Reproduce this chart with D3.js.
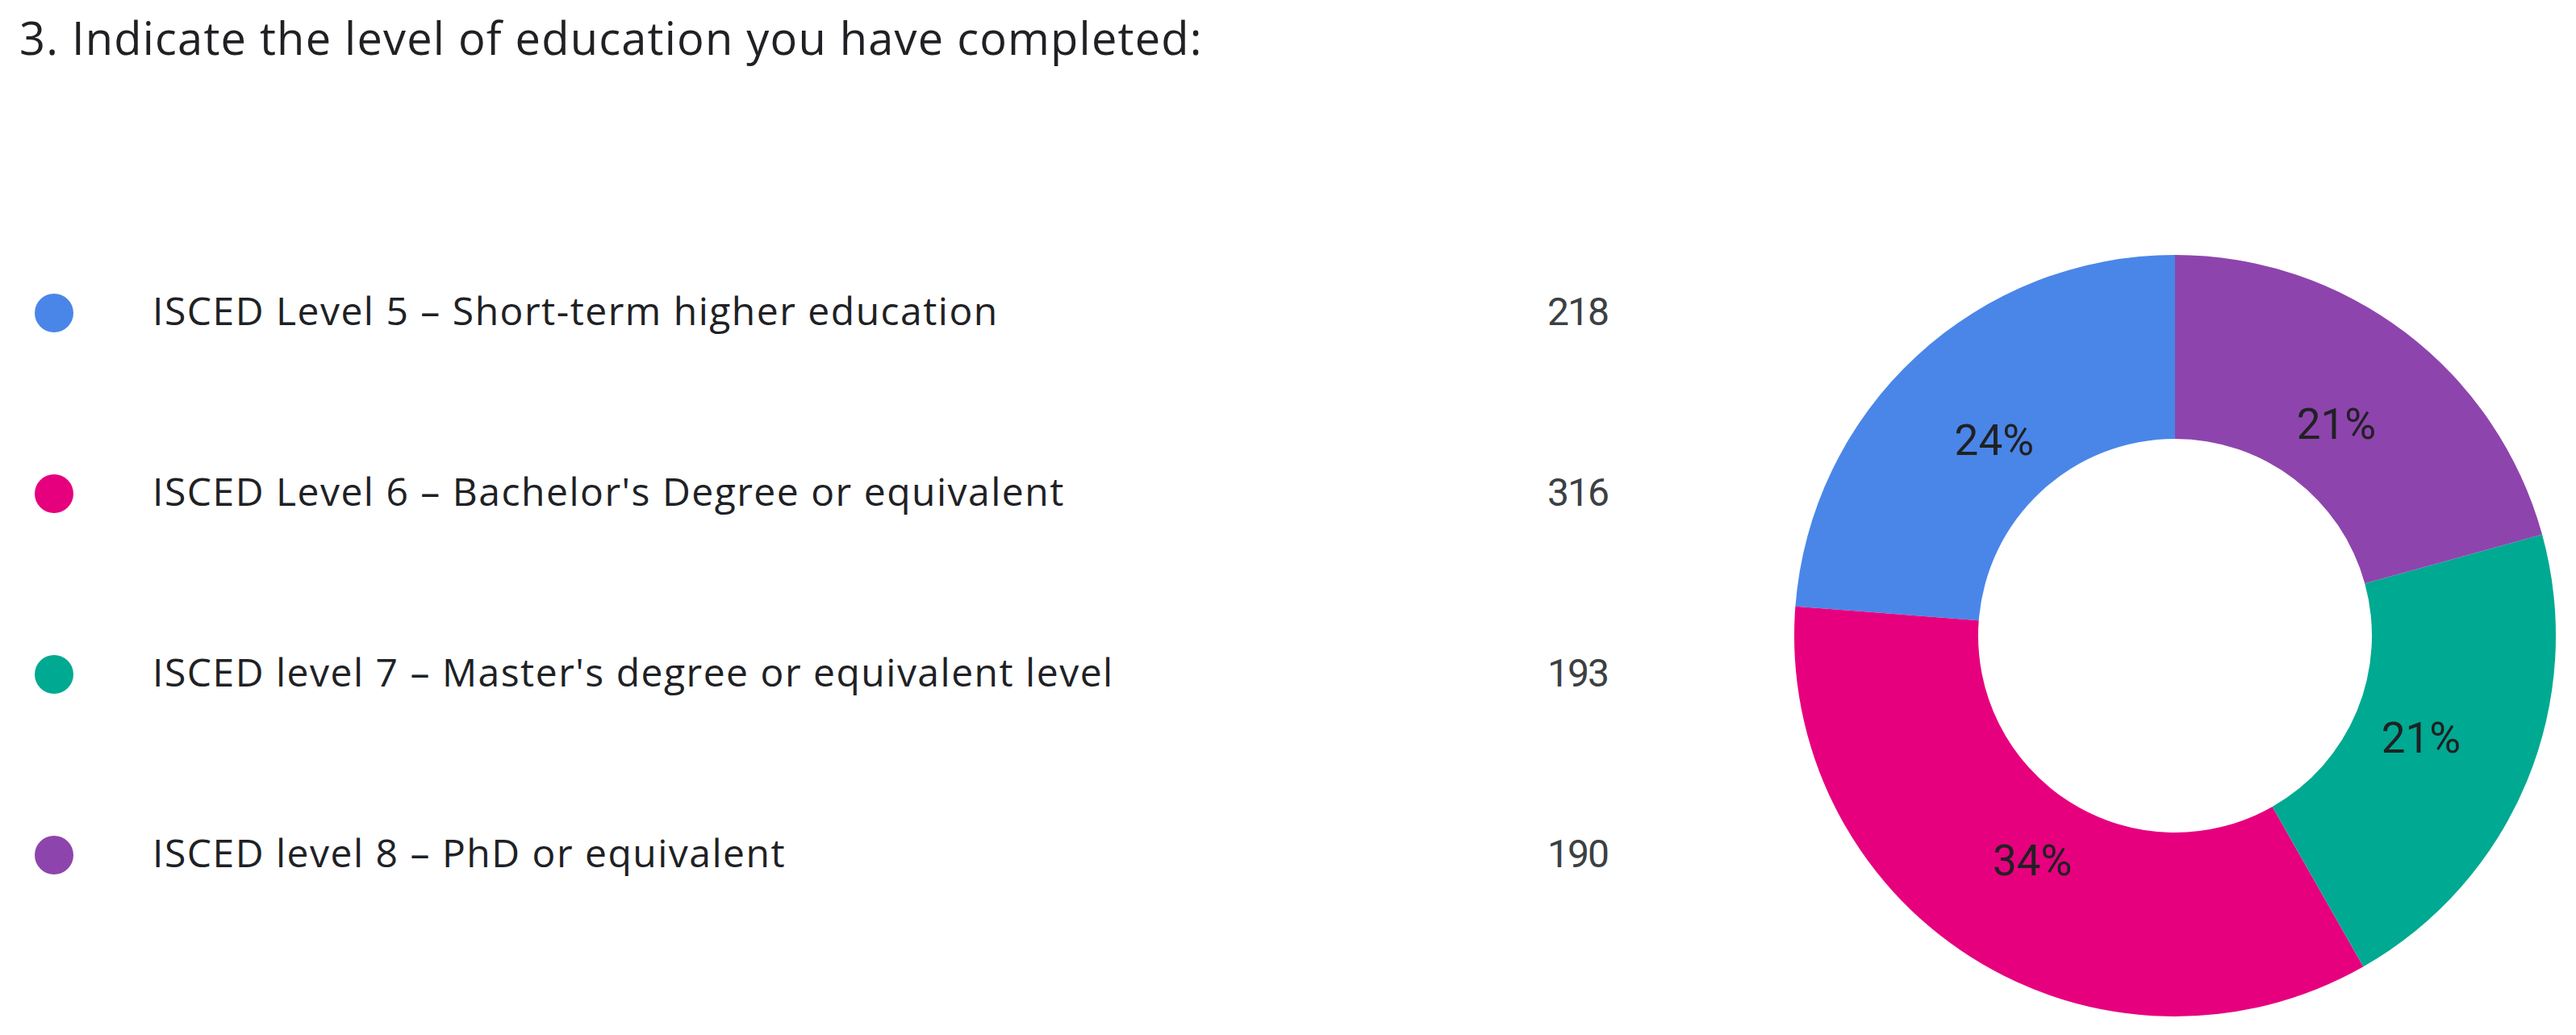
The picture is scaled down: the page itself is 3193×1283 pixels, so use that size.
<!DOCTYPE html>
<html lang="en">
  <head>
    <meta charset="utf-8">
    <title>Level of education</title>
    <script src="https://cdn.jsdelivr.net/npm/d3@7"></script>
    <style>
      body { margin: 0; background: #fff; }
      text { font-family: Roboto, "Noto Sans", sans-serif; }
      text.wide { font-family: "Open Sans", Roboto, sans-serif; }
    </style>
  </head>
  <body>
    <script>

      var title = "3. Indicate the level of education you have completed:";
      var categories = [
        "ISCED Level 5 \u2013 Short-term higher education",
        "ISCED Level 6 \u2013 Bachelor's Degree or equivalent",
        "ISCED level 7 \u2013 Master's degree or equivalent level",
        "ISCED level 8 \u2013 PhD or equivalent"
      ];
      var counts = [218, 316, 193, 190];
      var colors = ["#4a86e8", "#e6007e", "#00a991", "#8e44ad"];

      var W = 3193, H = 1283;

      var svg = d3.select("body").append("svg")
                  .attr("width", W)
                  .attr("height", H);

      svg.append("text")
         .attr("class", "wide")
         .attr("x", 24)
         .attr("y", 68)
         .attr("fill", "#202124")
         .style("font-size", "56px")
         .style("letter-spacing", "1.2px")
         .text(title);

      // legend rows
      var rowY = d3.scalePoint().domain(categories).range([386, 1058]);
      var color = d3.scaleOrdinal().domain(categories).range(colors);

      var rows = svg.selectAll("g.row")
         .data(categories)
         .enter().append("g")
         .attr("class", "row")
         .attr("transform", function(d) { return "translate(0," + rowY(d) + ")"; });

      rows.append("circle")
          .attr("cx", 67)
          .attr("cy", 2)
          .attr("r", 24)
          .attr("fill", function(d) { return color(d); });

      rows.append("text")
          .attr("class", "wide")
          .attr("x", 189)
          .attr("dy", "0.35em")
          .attr("fill", "#202124")
          .style("font-size", "48px")
          .style("letter-spacing", "1.5px")
          .text(function(d) { return d; });

      rows.append("text")
          .attr("x", 1993)
          .attr("dy", "0.35em")
          .attr("text-anchor", "end")
          .attr("fill", "#3c4043")
          .style("font-size", "48px")
          .style("letter-spacing", "-2px")
          .text(function(d, i) { return counts[i]; });

      // donut
      var total = d3.sum(counts);
      var pie = d3.pie().sort(null).startAngle(0).endAngle(-2 * Math.PI);
      var arcs = pie(counts);
      var arc = d3.arc().innerRadius(244).outerRadius(472);
      var labelArc = d3.arc().innerRadius(330).outerRadius(330);

      var g = svg.append("g").attr("transform", "translate(2696,788)");

      g.selectAll("path")
       .data(arcs)
       .enter().append("path")
       .attr("d", arc)
       .attr("fill", function(d, i) { return colors[i]; });

      g.selectAll("text")
       .data(arcs)
       .enter().append("text")
       .attr("transform", function(d) { return "translate(" + labelArc.centroid(d) + ")"; })
       .attr("text-anchor", "middle")
       .attr("dy", "0.35em")
       .attr("fill", "#202124")
       .style("font-size", "53px")
       .text(function(d) { return Math.round(d.value / total * 100) + "%"; });

    </script>
  </body>
</html>
